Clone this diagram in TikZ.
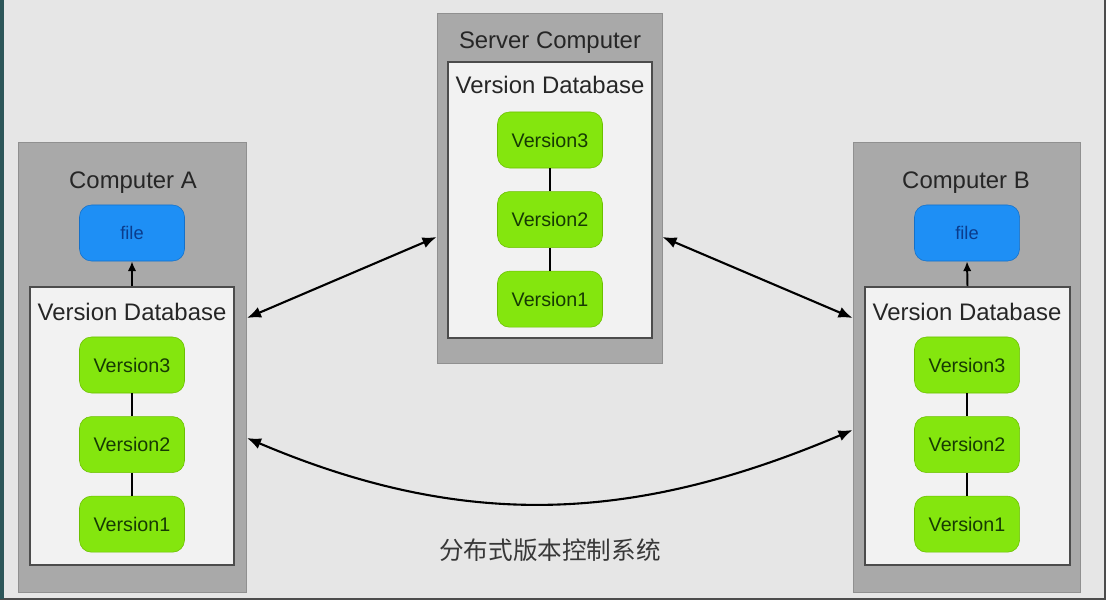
\documentclass[tikz,border=0pt]{standalone}
\usepackage{fontspec}
\setmainfont{Liberation Sans}
\newfontfamily\cjk{Noto Sans CJK SC}
\usetikzlibrary{arrows.meta, positioning}

\definecolor{bggray}{HTML}{E6E6E6}
\definecolor{boxgray}{HTML}{A9A9A9}
\definecolor{dbfill}{HTML}{F2F2F2}
\definecolor{vgreen}{HTML}{84E60E}
\definecolor{vgreendark}{HTML}{6CC000}
\definecolor{vtext}{HTML}{163A03}
\definecolor{fblue}{HTML}{1E8FF5}
\definecolor{fbluedark}{HTML}{1570C8}
\definecolor{ftext}{HTML}{0B3C8C}
\definecolor{frameteal}{HTML}{2D5659}

\tikzset{
  machine/.style={fill=boxgray, draw=boxgray!85!black, line width=0.6pt,
    minimum width=5.7cm, minimum height=11.25cm},
  database/.style={fill=dbfill, draw=black!70, line width=1.1pt,
    minimum width=5.1cm, minimum height=6.95cm},
  version/.style={fill=vgreen, draw=vgreendark, rounded corners=0.3cm,
    minimum width=2.625cm, minimum height=1.4cm, text=vtext,
    font=\fontsize{14}{16}\selectfont},
  filebox/.style={fill=fblue, draw=fbluedark, rounded corners=0.3cm,
    minimum width=2.625cm, minimum height=1.4cm, text=ftext,
    font=\fontsize{13}{15}\selectfont},
  title/.style={text=black!85, font=\fontsize{17}{20}\selectfont},
  sync/.style={{Latex[length=10pt,width=8pt]}-{Latex[length=10pt,width=8pt]}, line width=1.5pt},
  checkout/.style={-{Latex[length=7pt,width=6pt]}, line width=1.4pt},
  link/.style={line width=1.6pt}
}

\begin{document}
\begin{tikzpicture}[x=0.025cm, y=-0.025cm]
  \useasboundingbox (0,0) rectangle (1108,603);
  \fill[white] (0,0) rectangle (1108,603);
  \fill[bggray] (0,0) rectangle (1105,599);
  \draw[black!70, line width=0.8pt] (1105,0) -- (1105,599) -- (0,599);
  \fill[frameteal] (0,0) rectangle (4,599);

  % machines
  \node[machine] (compA) at (132.5,367) {};
  \node[machine, minimum width=5.625cm, minimum height=8.75cm] (srv) at (549.5,188) {};
  \node[machine, minimum width=5.675cm] (compB) at (966.5,367) {};

  \node[database] (dbA) at (132,426) {};
  \node[database, minimum height=6.9cm] (dbS) at (550,200) {};
  \node[database, minimum width=5.125cm] (dbB) at (967.5,426) {};

  \node[title] (titleA) at (133,183) {Computer A};
  \node[title] (titleS) at (550,43) {Server Computer};
  \node[title] (titleB) at (966,183) {Computer B};

  \node[title] (vdbA) at (132,312) {Version Database};
  \node[title] (vdbS) at (550,85) {Version Database};
  \node[title] (vdbB) at (967,312) {Version Database};

  \node[filebox] (fileA) at (132,233) {file};
  \node[filebox] (fileB) at (967,233) {file};
  \draw[checkout] (dbA.north) -- (fileA.south);
  \draw[checkout] (dbB.north) -- (fileB.south);

  % version chains
  \foreach \m/\x/\y in {A/132/365, S/550/140, B/967/365} {
    \node[version] (\m3) at (\x,\y) {Version3};
    \node[version, below=0.575cm of \m3] (\m2) {Version2};
    \node[version, below=0.575cm of \m2] (\m1) {Version1};
    \draw[link] (\m3) -- (\m2) (\m2) -- (\m1);
  }

  % synchronisation
  \draw[sync] ([yshift=1.225cm]compA.east) -- ([yshift=-1.225cm]srv.west);
  \draw[sync] ([yshift=-1.225cm]srv.east) -- ([yshift=1.225cm]compB.west);
  \draw[sync] ([yshift=-1.775cm]compA.east) to[out=-23, in=-157] ([yshift=-1.575cm]compB.west);

  \node[font=\cjk\fontsize{17.5}{20}\selectfont, text=black!78] (caption) at (550,550) {分布式版本控制系统};
\end{tikzpicture}
\end{document}
